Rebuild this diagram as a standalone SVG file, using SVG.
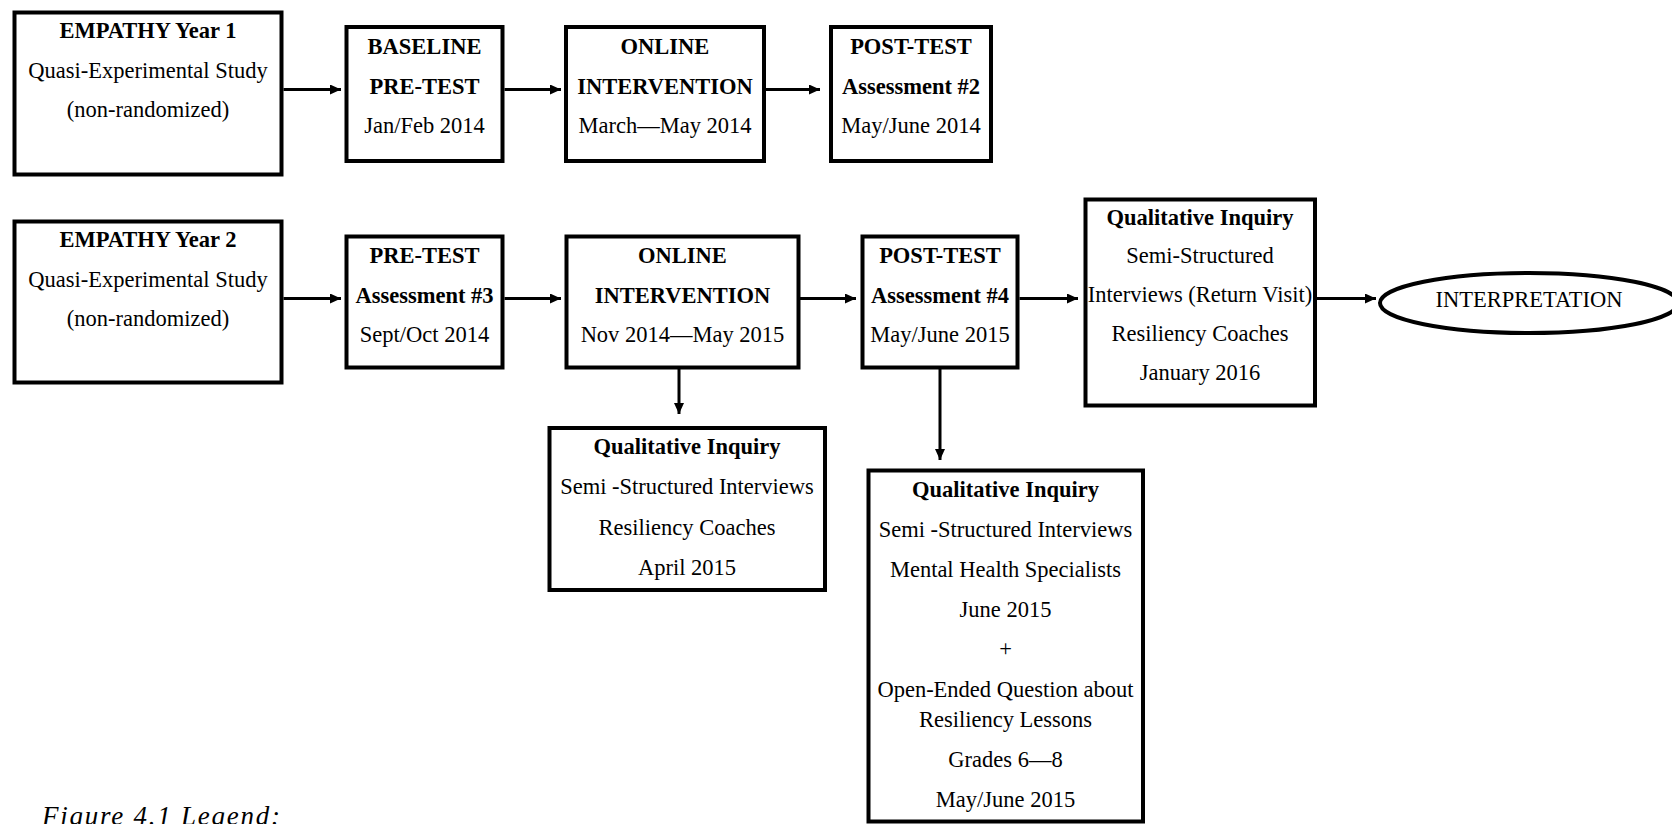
<svg xmlns="http://www.w3.org/2000/svg" width="1672" height="824" viewBox="0 0 1672 824">
<defs>
<style>
.box{fill:#fff;stroke:#000;stroke-width:4}
.t{font-family:"Liberation Serif","Times New Roman",serif;font-size:22.5px;fill:#000;text-anchor:middle}
.b{font-weight:bold}
.c{stroke:#000;stroke-width:3;fill:none}
</style>
<marker id="ah" markerWidth="12" markerHeight="10" refX="11" refY="5" orient="auto" markerUnits="userSpaceOnUse"><path d="M0,0 L11,5 L0,10 Z" fill="#000"/></marker>
</defs>
<rect width="1672" height="824" fill="#fff"/>
<g id="connectors">
<line class="c" x1="283.5" y1="89.5" x2="341" y2="89.5" marker-end="url(#ah)"/>
<line class="c" x1="504.5" y1="89.5" x2="561" y2="89.5" marker-end="url(#ah)"/>
<line class="c" x1="766" y1="89.5" x2="820" y2="89.5" marker-end="url(#ah)"/>
<line class="c" x1="283.5" y1="298.5" x2="341" y2="298.5" marker-end="url(#ah)"/>
<line class="c" x1="504.5" y1="298.5" x2="561" y2="298.5" marker-end="url(#ah)"/>
<line class="c" x1="799" y1="298.5" x2="856" y2="298.5" marker-end="url(#ah)"/>
<line class="c" x1="1019.5" y1="298.5" x2="1078" y2="298.5" marker-end="url(#ah)"/>
<line class="c" x1="1317" y1="298.5" x2="1376" y2="298.5" marker-end="url(#ah)"/>
<line class="c" x1="679" y1="369" x2="679" y2="414" marker-end="url(#ah)"/>
<line class="c" x1="940" y1="369" x2="940" y2="460" marker-end="url(#ah)"/>
</g>
<g id="n1">
<rect class="box" x="14.5" y="12.5" width="267" height="162"/>
<text class="t b" x="148" y="38">EMPATHY Year 1</text>
<text class="t" x="148" y="78">Quasi-Experimental Study</text>
<text class="t" x="148" y="117">(non-randomized)</text>
</g>
<g id="n2">
<rect class="box" x="346.5" y="27" width="156" height="134"/>
<text class="t b" x="424.5" y="54">BASELINE</text>
<text class="t b" x="424.5" y="94">PRE-TEST</text>
<text class="t" x="424.5" y="133">Jan/Feb 2014</text>
</g>
<g id="n3">
<rect class="box" x="566" y="27" width="198" height="134"/>
<text class="t b" x="665" y="54">ONLINE</text>
<text class="t b" x="665" y="94">INTERVENTION</text>
<text class="t" x="665" y="133">March—May 2014</text>
</g>
<g id="n4">
<rect class="box" x="831" y="27" width="160" height="134"/>
<text class="t b" x="911" y="54">POST-TEST</text>
<text class="t b" x="911" y="94">Assessment #2</text>
<text class="t" x="911" y="133">May/June 2014</text>
</g>
<g id="n5">
<rect class="box" x="14.5" y="221.5" width="267" height="161"/>
<text class="t b" x="148" y="247">EMPATHY Year 2</text>
<text class="t" x="148" y="287">Quasi-Experimental Study</text>
<text class="t" x="148" y="326">(non-randomized)</text>
</g>
<g id="n6">
<rect class="box" x="346.5" y="236.5" width="156" height="131"/>
<text class="t b" x="424.5" y="263">PRE-TEST</text>
<text class="t b" x="424.5" y="303">Assessment #3</text>
<text class="t" x="424.5" y="342">Sept/Oct 2014</text>
</g>
<g id="n7">
<rect class="box" x="566.5" y="236.5" width="232" height="131"/>
<text class="t b" x="682.5" y="263">ONLINE</text>
<text class="t b" x="682.5" y="303">INTERVENTION</text>
<text class="t" x="682.5" y="342">Nov 2014—May 2015</text>
</g>
<g id="n8">
<rect class="box" x="862.5" y="236.5" width="155" height="131"/>
<text class="t b" x="940" y="263">POST-TEST</text>
<text class="t b" x="940" y="303">Assessment #4</text>
<text class="t" x="940" y="342">May/June 2015</text>
</g>
<g id="n9">
<rect class="box" x="1085.5" y="199.5" width="229.5" height="206"/>
<text class="t b" x="1200" y="225">Qualitative Inquiry</text>
<text class="t" x="1200" y="263">Semi-Structured</text>
<text class="t" x="1200" y="302">Interviews (Return Visit)</text>
<text class="t" x="1200" y="341">Resiliency Coaches</text>
<text class="t" x="1200" y="380">January 2016</text>
</g>
<g id="n10">
<ellipse cx="1529" cy="303" rx="149" ry="30" fill="#fff" stroke="#000" stroke-width="4"/>
<text class="t" x="1529" y="307">INTERPRETATION</text>
</g>
<g id="n11">
<rect class="box" x="549.5" y="428" width="275.5" height="162"/>
<text class="t b" x="687" y="454">Qualitative Inquiry</text>
<text class="t" x="687" y="494">Semi -Structured Interviews</text>
<text class="t" x="687" y="535">Resiliency Coaches</text>
<text class="t" x="687" y="575">April 2015</text>
</g>
<g id="n12">
<rect class="box" x="868.5" y="470.5" width="274.5" height="351"/>
<text class="t b" x="1005.5" y="497">Qualitative Inquiry</text>
<text class="t" x="1005.5" y="537">Semi -Structured Interviews</text>
<text class="t" x="1005.5" y="577">Mental Health Specialists</text>
<text class="t" x="1005.5" y="617">June 2015</text>
<text class="t" x="1005.5" y="656">+</text>
<text class="t" x="1005.5" y="697">Open-Ended Question about</text>
<text class="t" x="1005.5" y="727">Resiliency Lessons</text>
<text class="t" x="1005.5" y="767">Grades 6—8</text>
<text class="t" x="1005.5" y="807">May/June 2015</text>
</g>
<text x="42" y="825" font-family="'Liberation Serif','Times New Roman',serif" font-style="italic" font-size="27" textLength="238" lengthAdjust="spacing">Figure 4.1 Legend:</text>
</svg>
